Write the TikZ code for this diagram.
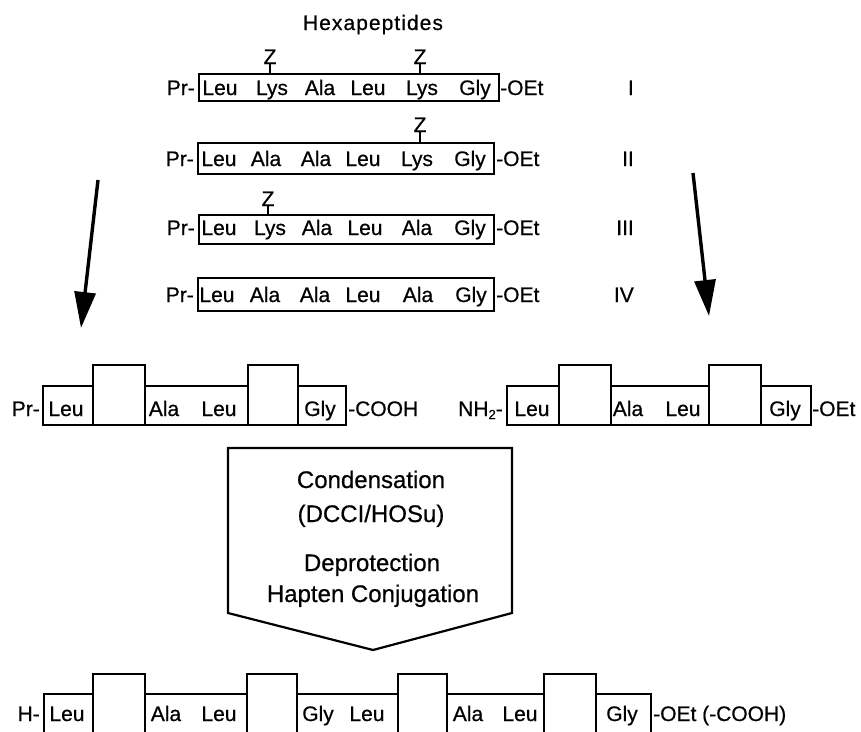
\documentclass[tikz,border=0pt]{standalone}
\usepackage{fontspec}
\setmainfont{Liberation Sans}[FakeBold=0.6]
\usetikzlibrary{arrows.meta}
\newcommand\fsz[1]{\fontsize{#1}{#1}\selectfont}
\begin{document}
\begin{tikzpicture}[x=1pt,y=-1pt,
  txt/.style={inner sep=0pt, anchor=base, font=\fsz{21}},
  lbl/.style={inner sep=0pt, font=\fsz{21}},
  big/.style={inner sep=0pt, anchor=base, font=\fsz{24}},
  frame/.style={draw, line width=2.2pt, inner sep=0pt, anchor=north west},
  seg/.style={draw, line width=2.2pt, inner sep=0pt, anchor=south west},
  tick/.style={line width=2pt},
  bigarrow/.style={line width=3.4pt, -{Triangle[length=36pt,width=21pt]}},
]
\useasboundingbox (0,0) rectangle (861,731);
\clip (0,0) rectangle (861,731);

% title
\node[txt, font=\fsz{21}\addfontfeature{LetterSpace=5}] (title) at (373,30) {Hexapeptides};

% ---- Hexapeptide I
\node[frame, minimum width=300pt, minimum height=27pt] (bI) at (198,73) {};
\foreach \x/\t [count=\i] in {220/Leu,272/Lys,320/Ala,368/Leu,422/Lys,475/Gly}
  \node[txt] (rI\i) at (\x,95) {\t};
\node[lbl, anchor=base east] (prI) at (195,95) {Pr-};
\node[lbl, anchor=base west] (oI) at (500,95) {-OEt};
\node[lbl, anchor=base east] (nI) at (634,95) {I};
\node[txt] (zIa) at (270,64) {Z};
\node[txt] (zIb) at (420,64) {Z};
\draw[tick] (zIa.south) -- (zIa.south |- bI.north);
\draw[tick] (zIb.south) -- (zIb.south |- bI.north);

% ---- Hexapeptide II
\node[frame, minimum width=296pt, minimum height=31pt] (bII) at (197,142) {};
\foreach \x/\t [count=\i] in {219/Leu,266/Ala,316/Ala,363/Leu,417/Lys,470/Gly}
  \node[txt] (rII\i) at (\x,166) {\t};
\node[lbl, anchor=base east] (prII) at (194,166) {Pr-};
\node[lbl, anchor=base west] (oII) at (496,166) {-OEt};
\node[lbl, anchor=base east] (nII) at (634,166) {II};
\node[txt] (zII) at (420,132) {Z};
\draw[tick] (zII.south) -- (zII.south |- bII.north);

% ---- Hexapeptide III
\node[frame, minimum width=295pt, minimum height=29pt] (bIII) at (198,214) {};
\foreach \x/\t [count=\i] in {219/Leu,270/Lys,317/Ala,365/Leu,417/Ala,470/Gly}
  \node[txt] (rIII\i) at (\x,235) {\t};
\node[lbl, anchor=base east] (prIII) at (195,235) {Pr-};
\node[lbl, anchor=base west] (oIII) at (496,235) {-OEt};
\node[lbl, anchor=base east] (nIII) at (634,235) {III};
\node[txt] (zIII) at (268,206) {Z};
\draw[tick] (zIII.south) -- (zIII.south |- bIII.north);

% ---- Hexapeptide IV
\node[frame, minimum width=296pt, minimum height=33pt] (bIV) at (197,277) {};
\foreach \x/\t [count=\i] in {217/Leu,265/Ala,315/Ala,363/Leu,418/Ala,471/Gly}
  \node[txt] (rIV\i) at (\x,302) {\t};
\node[lbl, anchor=base east] (prIV) at (194,302) {Pr-};
\node[lbl, anchor=base west] (oIV) at (496,302) {-OEt};
\node[lbl, anchor=base east] (nIV) at (634,302) {IV};

% ---- arrows
\coordinate (la1) at (98,180);
\coordinate (la2) at (81,328);
\coordinate (ra1) at (693,173);
\coordinate (ra2) at (709,316);
\draw[bigarrow] (la1) -- (la2);
\draw[bigarrow] (ra1) -- (ra2);

% ---- left fragment
\foreach \a/\b/\t [count=\i] in {42/92/387,92/144/366,144/247/387,247/297/366,297/345/387}
  \node[seg, minimum width={(\b-\a)*1pt}, minimum height={(426-\t)*1pt}] (L\i) at (\a,426) {};
\node[txt] (Lt1) at (66,416) {Leu};
\node[txt] (Lt2) at (164,416) {Ala};
\node[txt] (Lt3) at (219,416) {Leu};
\node[txt] (Lt4) at (320,416) {Gly};
\node[lbl, anchor=base east] (Lpr) at (40,416) {Pr-};
\node[lbl, anchor=base west] (Lco) at (348,416) {-COOH};

% ---- right fragment
\foreach \a/\b/\t [count=\i] in {506/558/387,558/610/366,610/708/387,708/760/366,760/810/387}
  \node[seg, minimum width={(\b-\a)*1pt}, minimum height={(426-\t)*1pt}] (R\i) at (\a,426) {};
\node[txt] (Rt1) at (532,416) {Leu};
\node[txt] (Rt2) at (628,416) {Ala};
\node[txt] (Rt3) at (683,416) {Leu};
\node[txt] (Rt4) at (785,416) {Gly};
\node[lbl, anchor=base east] (Rnh) at (503,416) {NH\raisebox{-3pt}{\fsz{13}2}-};
\node[lbl, anchor=base west] (Roe) at (812,416) {-OEt};

% ---- process arrow
\coordinate (p1) at (228,448);
\coordinate (p2) at (512,448);
\coordinate (p3) at (512,613);
\coordinate (p4) at (373,650);
\coordinate (p5) at (228,613);
\draw[line width=2.2pt, line join=miter] (p1) -- (p2) -- (p3) -- (p4) -- (p5) -- cycle;
\node[big] (c1) at (371,488) {Condensation};
\node[big] (c2) at (371,522) {(DCCI/HOSu)};
\node[big] (c3) at (372,571) {Deprotection};
\node[big] (c4) at (373,602) {Hapten Conjugation};

% ---- product
\foreach \a/\b/\t [count=\i] in {43/92/695,92/144/675,144/246/695,246/296/675,296/397/695,397/446/675,446/543/695,543/595/675,595/650/695}
  \node[seg, minimum width={(\b-\a)*1pt}, minimum height={(745-\t)*1pt}] (P\i) at (\a,745) {};
\node[txt] (Pt1) at (67,721) {Leu};
\node[txt] (Pt2) at (166,721) {Ala};
\node[txt] (Pt3) at (219,721) {Leu};
\node[txt] (Pt4) at (318,721) {Gly};
\node[txt] (Pt5) at (367,721) {Leu};
\node[txt] (Pt6) at (468,721) {Ala};
\node[txt] (Pt7) at (520,721) {Leu};
\node[txt] (Pt8) at (622,721) {Gly};
\node[lbl, anchor=base east] (Ph) at (40,721) {H-};
\node[lbl, anchor=base west] (Poe) at (653,721) {-OEt (-COOH)};
\end{tikzpicture}
\end{document}
